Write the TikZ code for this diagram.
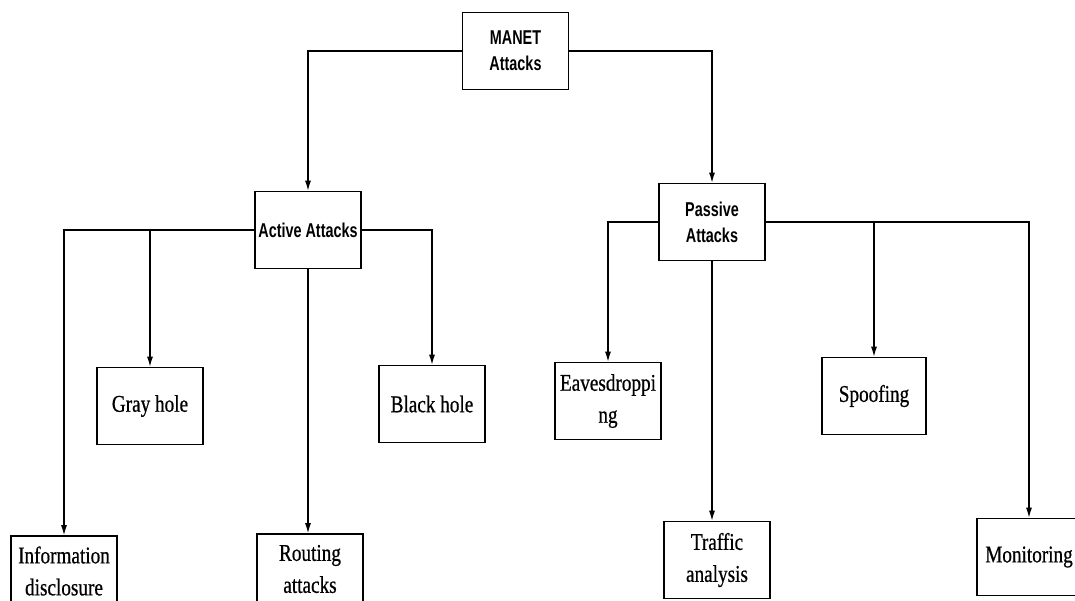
\documentclass[tikz,border=0pt]{standalone}
\usepackage{fontspec}
\usetikzlibrary{arrows.meta}
\newfontfamily\headfont[FakeStretch=0.72]{Liberation Sans Bold}
\newfontfamily\leaffont[FakeStretch=0.8,FakeBold=0.6]{Liberation Serif}
\begin{document}
\begin{tikzpicture}[x=1pt,y=-1pt,
  box/.style={draw=black, line width=1.6pt, fill=white, inner sep=0pt,
    minimum width=106pt, minimum height=77pt, align=center},
  headbox/.style={box, font=\headfont\fontsize{20}{26}\selectfont},
  leafbox/.style={box, font=\leaffont\fontsize{24}{32}\selectfont},
  link/.style={draw=black, line width=1.2pt},
  arr/.style={link, -{Latex[length=10pt,width=6pt]}}]
\useasboundingbox (0,0) rectangle (1075,601);
\clip (0,0) rectangle (1075,601);
\fill[white] (0,0) rectangle (1075,601);

% root and the two attack classes
\node[headbox] (manet)   at (515.5,51) {MANET\\Attacks};
\node[headbox] (active)  at (308,230)  {Active Attacks};
\node[headbox] (passive) at (712,222)  {Passive\\Attacks};

% active attacks
\node[leafbox, minimum height=70pt] (info)    at (64,571)  {Information\\disclosure};
\node[leafbox] (gray)    at (150,406)  {Gray hole};
\node[leafbox, minimum height=70pt] (routing) at (310,569) {Routing\\attacks};
\node[leafbox] (black)   at (432,404)  {Black hole};

% passive attacks
\node[leafbox] (eaves)   at (608,401)  {Eavesdroppi\\ng};
\node[leafbox] (traffic) at (717,560)  {Traffic\\analysis};
\node[leafbox, minimum width=104pt] (spoof) at (874,396) {Spoofing};
\node[leafbox, minimum width=104pt] (mon)   at (1029,557) {Monitoring};

% connectors from the root
\draw[arr] (manet.west) -| (active.north);
\draw[arr] (manet.east) -| (passive.north);

% connectors below active attacks
\draw[arr] (active.west) -| (info.north);
\draw[arr] (active.west -| gray.north) -- (gray.north);
\draw[arr] (active.east) -| (black.north);
\draw[arr] (active.south) -- (active.south |- routing.north);

% connectors below passive attacks
\draw[arr] (passive.west) -| (eaves.north);
\draw[arr] (passive.east) -| (mon.north);
\draw[arr] (passive.east -| spoof.north) -- (spoof.north);
\draw[arr] (passive.south) -- (passive.south |- traffic.north);
\end{tikzpicture}
\end{document}
